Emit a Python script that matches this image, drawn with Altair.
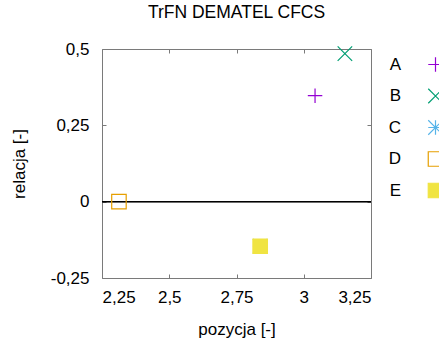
import altair as alt
import pandas as pd

# Data
names = ["A", "B", "C", "D", "E"]
pos = [3.042, 3.153, 2.838, 2.313, 2.838]
rel = [0.347, 0.485, -0.146, 0.0, -0.146]
colors = ["#9400D3", "#009E73", "#56B4E9", "#E69F00", "#F0E442"]
fills = ["transparent", "transparent", "transparent", "transparent", "#F0E442"]
shapes = [
    "M-1,0H1M0,-1V1",
    "M-1,-1L1,1M-1,1L1,-1",
    "M-1,0H1M0,-1V1M-1,-1L1,1M-1,1L1,-1",
    "M-1,-1H1V1H-1Z",
    "M-1,-1H1V1H-1Z",
]
x_ticks = [2.25, 2.5, 2.75, 3.0, 3.25]
y_ticks = [-0.25, 0.0, 0.25, 0.5]

df = pd.DataFrame({"name": names, "x": pos, "y": rel})

FONT = "Liberation Sans"
FS = 17
GRAY = "#7a7a7a"
W, H = 269, 229

xs = alt.Scale(domain=[2.25, 3.25], nice=False, zero=False)
ys = alt.Scale(domain=[-0.25, 0.5], nice=False, zero=False)
lab = "replace(toString(datum.value), '.', ',')"

leg = alt.Legend(
    title=None, orient="none", legendX=325, legendY=7,
    labelAlign="right", labelOffset={"expr": "-43"}, symbolSize=210,
    symbolStrokeWidth=1.2, rowPadding=10.5, labelFontSize=FS,
    labelFont=FONT, labelColor="black", padding=0,
)

points = alt.Chart(df).mark_point(opacity=1, strokeWidth=1.2, size=210).encode(
    x=alt.X("x:Q", scale=xs, axis=alt.Axis(
        orient="bottom", values=x_ticks, labelExpr=lab, ticks=False,
        domain=False, grid=False, title="pozycja [-]", labelPadding=11,
        titlePadding=16)),
    y=alt.Y("y:Q", scale=ys, axis=alt.Axis(
        orient="left", values=y_ticks, labelExpr=lab, ticks=False,
        domain=False, grid=False, title="relacja [-]", labelPadding=13,
        titlePadding=22)),
    shape=alt.Shape("name:N", scale=alt.Scale(domain=names, range=shapes), legend=leg),
    stroke=alt.Stroke("name:N", scale=alt.Scale(domain=names, range=colors), legend=leg),
    fill=alt.Fill("name:N", scale=alt.Scale(domain=names, range=fills), legend=leg),
)

zero = alt.Chart(df).mark_rule(color="black", strokeWidth=1).encode(
    y=alt.YDatum(0, scale=ys, axis=None)
)

ticks_a = alt.Chart(df).mark_point(opacity=0).encode(
    x=alt.X("x:Q", scale=xs, axis=alt.Axis(
        orient="top", offset=-H, values=x_ticks, labels=False, domain=False,
        grid=False, tickSize=4, tickColor=GRAY, title=None)),
    y=alt.Y("y:Q", scale=ys, axis=alt.Axis(
        orient="right", offset=-W, values=y_ticks, labels=False, domain=False,
        grid=False, tickSize=4, tickColor=GRAY, title=None)),
)

ticks_b = alt.Chart(df).mark_point(opacity=0).encode(
    x=alt.X("x:Q", scale=xs, axis=alt.Axis(
        orient="bottom", offset=-H, values=x_ticks, labels=False, domain=False,
        grid=False, tickSize=4, tickColor=GRAY, title=None)),
    y=alt.Y("y:Q", scale=ys, axis=alt.Axis(
        orient="left", offset=-W, values=y_ticks, labels=False, domain=False,
        grid=False, tickSize=4, tickColor=GRAY, title=None)),
)

chart = alt.layer(zero, points, ticks_a, ticks_b).resolve_scale(
    x="independent", y="independent"
).properties(
    width=W, height=H,
    title=alt.TitleParams("TrFN DEMATEL CFCS", anchor="middle", fontSize=17.5,
                          font=FONT, fontWeight="normal", color="black",
                          baseline="alphabetic", offset=5),
    autosize=alt.AutoSizeParams(type="none"),
    padding={"left": 102, "top": 49, "right": 68, "bottom": 66},
).configure_view(
    stroke=GRAY, strokeWidth=1
).configure_axis(
    labelFont=FONT, labelFontSize=FS, labelColor="black",
    titleFont=FONT, titleFontSize=FS, titleFontWeight="normal", titleColor="black",
)

chart.save("out.html", embed_options={"renderer": "svg", "actions": False})
